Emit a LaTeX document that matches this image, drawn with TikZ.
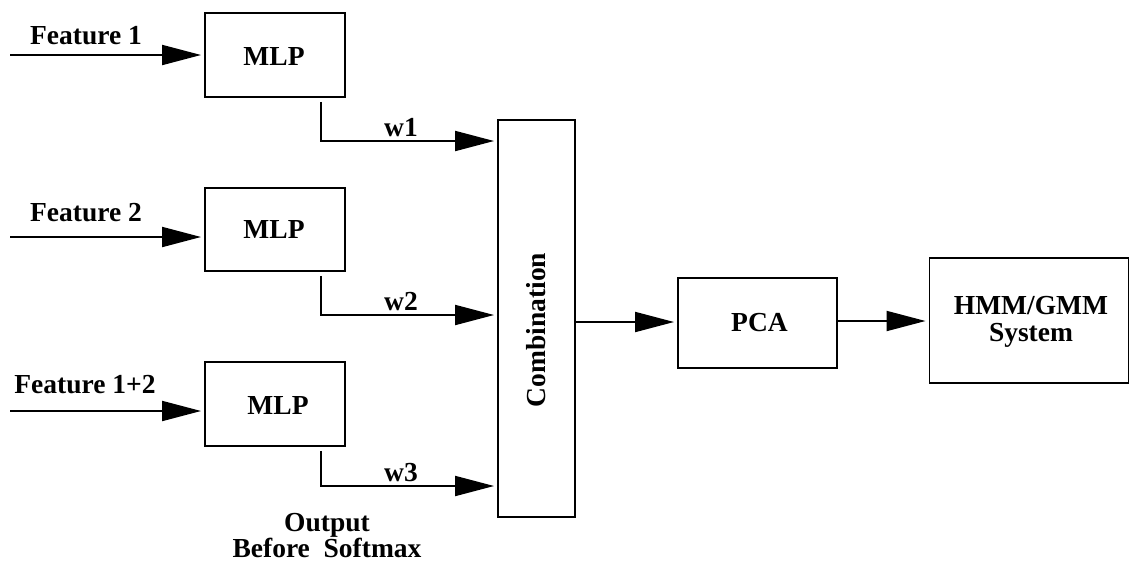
\documentclass[tikz,border=0pt]{standalone}
\usepackage{fontspec}
\setmainfont{Liberation Serif}
\usetikzlibrary{arrows.meta,calc}
\begin{document}
\begin{tikzpicture}[x=1pt,y=-1pt,
  line width=1.9pt,
  box/.style={draw,rectangle,inner sep=0pt,line width=1.9pt},
  lbl/.style={font=\fontsize{27.5}{27}\selectfont\bfseries,inner sep=0pt},
  arr/.style={-{Triangle[length=39pt,width=20pt]},shorten >=3pt}]
\useasboundingbox (0,0) rectangle (1130,563);
% boxes
\node[box,minimum width=140pt,minimum height=84pt] (mlp1) at (275,55) {};
\node[box,minimum width=140pt,minimum height=83pt] (mlp2) at (275,229.5) {};
\node[box,minimum width=140pt,minimum height=84pt] (mlp3) at (275,404) {};
\node[box,minimum width=77pt,minimum height=397pt] (comb) at (536.5,318.5) {};
\node[box,minimum width=159pt,minimum height=90pt] (pca) at (757.5,323) {};
\node[box,minimum width=199pt,minimum height=125pt] (hmm) at (1029,320.5) {};
% box texts
\node[lbl] (t1) at (274,56) {MLP};
\node[lbl] (t2) at (274,229) {MLP};
\node[lbl] (t3) at (278,405) {MLP};
\node[lbl,rotate=90] (tc) at (536,330) {Combination};
\node[lbl] (tp) at (759.5,322.5) {PCA};
\node[lbl,align=center] (th) at (1031,322) {HMM/GMM\\System};
% inputs
\coordinate (in1) at (10,55);
\coordinate (in2) at (10,237);
\coordinate (in3) at (10,411);
\draw[arr] (in1) -- (in1 -| mlp1.west);
\draw[arr] (in2) -- (in2 -| mlp2.west);
\draw[arr] (in3) -- (in3 -| mlp3.west);
\node[lbl] (f1) at (86,36) {Feature 1};
\node[lbl] (f2) at (86,213) {Feature 2};
\node[lbl] (f3) at (85,385) {Feature 1+2};
% outputs
\coordinate (o1) at ([xshift=-25pt,yshift=-4pt]mlp1.south east);
\coordinate (o2) at ([xshift=-25pt,yshift=-4pt]mlp2.south east);
\coordinate (o3) at ([xshift=-25pt,yshift=-4pt]mlp3.south east);
\draw[arr] (o1) |- ($(comb.west)+(0,-177.5)$);
\draw[arr] (o2) |- ($(comb.west)+(0,-3.5)$);
\draw[arr] (o3) |- ($(comb.west)+(0,167.5)$);
\node[lbl] (w1) at (401,128) {w1};
\node[lbl] (w2) at (401,302) {w2};
\node[lbl] (w3) at (401,473) {w3};
\node[lbl,align=center,anchor=north,font=\fontsize{27.5}{22}\selectfont\bfseries] (out) at (327,512) {Output\\Before\ \ Softmax};
% chain
\draw[arr] (comb.east |- pca.west) ++(0,-1) -- ([yshift=1pt]pca.west);
\draw[arr] ([yshift=2pt]pca.east) -- ([yshift=2pt]pca.east -| hmm.west);
\end{tikzpicture}
\end{document}
